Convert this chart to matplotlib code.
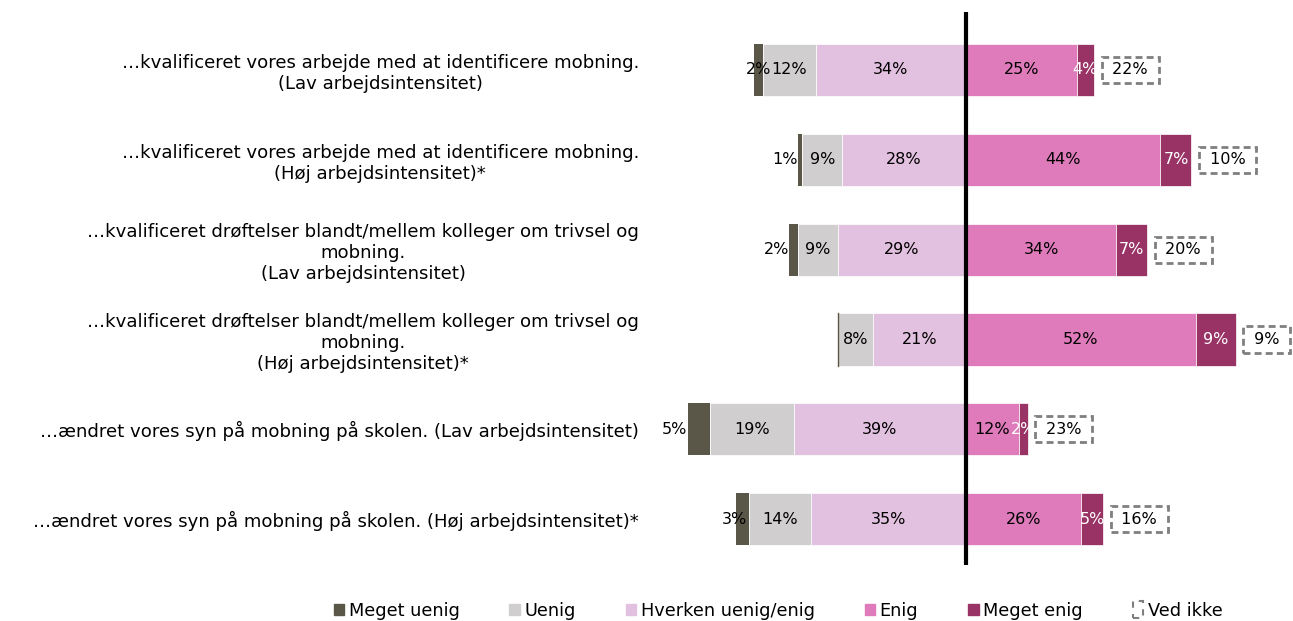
import numpy as np
import matplotlib
matplotlib.use("Agg")
import matplotlib.pyplot as plt
from matplotlib.patches import Patch, Rectangle
from matplotlib.legend_handler import HandlerPatch

# --- Data ---
labels = [
    "…kvalificeret vores arbejde med at identificere mobning.\n(Lav arbejdsintensitet)",
    "…kvalificeret vores arbejde med at identificere mobning.\n(Høj arbejdsintensitet)*",
    "…kvalificeret drøftelser blandt/mellem kolleger om trivsel og\nmobning.\n(Lav arbejdsintensitet)",
    "…kvalificeret drøftelser blandt/mellem kolleger om trivsel og\nmobning.\n(Høj arbejdsintensitet)*",
    "…ændret vores syn på mobning på skolen. (Lav arbejdsintensitet)",
    "…ændret vores syn på mobning på skolen. (Høj arbejdsintensitet)*",
]
meget_uenig = [2, 1, 2, 0, 5, 3]
uenig = [12, 9, 9, 8, 19, 14]
hverken = [34, 28, 29, 21, 39, 35]
enig = [25, 44, 34, 52, 12, 26]
meget_enig = [4, 7, 7, 9, 2, 5]
ved_ikke = [22, 10, 20, 9, 23, 16]

# label nudges for the tiny "Meget uenig" bars (in % units)
mu_nudge = [4, 0, 0, 0, 0, 2.5]

c_mu = "#5a5749"
c_u = "#d0cece"
c_h = "#e2c0df"
c_e = "#df7bbb"
c_me = "#993366"
c_box = "#7f7f7f"

FS = 11.5    # bar labels
FS_Y = 13.1  # category labels
FS_L = 12.8  # legend

fig = plt.figure(figsize=(12.93, 6.21), dpi=100)
ax = fig.add_axes([650 / 1293, 1 - 565 / 621, 1 - 650 / 1293, (565 - 12) / 621])

y = np.arange(len(labels))
h = 0.58
mu = np.array(meget_uenig)
u = np.array(uenig)
hv = np.array(hverken)
e = np.array(enig)
me = np.array(meget_enig)

# left side (negative)
ax.barh(y, -hv, height=h, color=c_h, edgecolor="white", linewidth=0.5)
ax.barh(y, -u, left=-hv, height=h, color=c_u, edgecolor="white", linewidth=0.5)
ax.barh(y, -mu, left=-hv - u, height=h, color=c_mu, edgecolor="none")
# right side
ax.barh(y, e, height=h, color=c_e, edgecolor="white", linewidth=0.5)
ax.barh(y, me, left=e, height=h, color=c_me, edgecolor="white", linewidth=0.5)

# 0 % sliver drawn as a thin line
for i in range(len(y)):
    if mu[i] == 0:
        x0 = -hv[i] - u[i]
        ax.plot([x0, x0], [i - h / 2, i + h / 2], color=c_mu, lw=1)

for i in range(len(y)):
    ax.text(-hv[i] / 2, i, f"{hv[i]}%", ha="center", va="center", fontsize=FS, color="black")
    ax.text(-hv[i] - u[i] / 2, i, f"{u[i]}%", ha="center", va="center", fontsize=FS, color="black")
    if mu[i] > 0:
        ax.text(-hv[i] - u[i] - mu[i] + mu_nudge[i], i, f"{mu[i]}%", ha="right", va="center",
                fontsize=FS, color="black")
    ax.text(e[i] / 2, i, f"{e[i]}%", ha="center", va="center", fontsize=FS, color="black")
    ax.text(e[i] + me[i] / 2, i, f"{me[i]}%", ha="center", va="center", fontsize=FS, color="white")
    ax.annotate(f" {ved_ikke[i]}% ", xy=(e[i] + me[i], i), xytext=(9.5, 0),
                textcoords="offset points", ha="left", va="center", fontsize=FS,
                bbox=dict(boxstyle="square,pad=0.35", fc="white", ec=c_box, lw=2, ls=(0, (2.5, 1.5))),
                annotation_clip=False)

ax.axvline(0, color="black", lw=3)

ax.set_xlim((650 - 966) / 4.42, (1293 - 966) / 4.42)
ax.set_ylim(5 + 0.51, -0.644)
ax.set_yticks(y)
ax.set_yticklabels(labels, fontsize=FS_Y, multialignment="center", linespacing=1.22)
ax.tick_params(axis="y", length=0, pad=8)
ax.set_xticks([])
for s in ax.spines.values():
    s.set_visible(False)


class DashedBoxHandler(HandlerPatch):
    def create_artists(self, legend, orig_handle, xdescent, ydescent, width, height, fontsize, trans):
        r = Rectangle((-xdescent + width * 0.05, -ydescent - height * 0.25), width * 0.9, height * 1.5,
                      fc="none", ec=c_box, lw=1.5, ls=(0, (3, 3)), transform=trans)
        return [r]


handles = [
    Patch(color=c_mu), Patch(color=c_u), Patch(color=c_h),
    Patch(color=c_e), Patch(color=c_me), Patch(fc="none", ec=c_box),
]
names = ["Meget uenig", "Uenig", "Hverken uenig/enig", "Enig", "Meget enig", "Ved ikke"]
fig.legend(handles, names, loc="center", bbox_to_anchor=(778 / 1293, 1 - 611 / 621), ncol=6,
           frameon=False, fontsize=FS_L, handlelength=0.6, handleheight=0.6, handletextpad=0.25,
           columnspacing=2.8, handler_map={handles[-1]: DashedBoxHandler()})

fig.savefig("out.png", dpi=100)
